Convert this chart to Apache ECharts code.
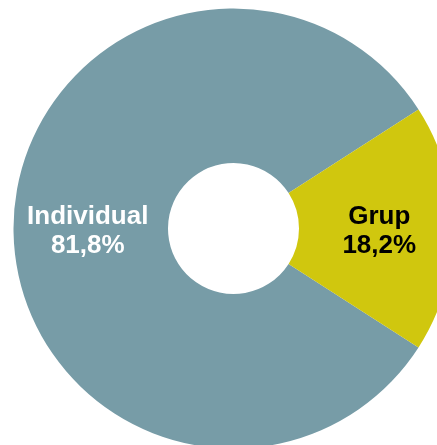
<!DOCTYPE html>
<html>
<head>
<meta charset="utf-8">
<script src="https://cdn.jsdelivr.net/npm/echarts@6/dist/echarts.min.js"></script>
<style>
  html, body { margin: 0; padding: 0; background: #fff; }
  #chart { width: 437px; height: 445px; }
</style>
</head>
<body>
<div id="chart"></div>
<script>
// data
const categories = ['Individual', 'Grup']
const shares = [81.8, 18.2]
const sliceColors = ['#779CA7', '#D0C70E']
const labelColors = ['#ffffff', '#000000']

const chart = echarts.init(document.getElementById('chart'))

const seriesData = categories.map((name, i) => ({
  name,
  value: shares[i],
  itemStyle: { color: sliceColors[i] },
  label: { color: labelColors[i] }
}))

// Grup centered on the right side
const startAngle = -(shares[1] / 100 * 360) / 2

chart.setOption({
  animation: false,
  series: [{
    type: 'pie',
    center: [233.5, 228.5],
    radius: [65.5, 220],
    startAngle,
    clockwise: true,
    silent: true,
    data: seriesData,
    label: {
      show: true,
      position: 'inside',
      offset: [0, 3],
      fontFamily: 'Liberation Sans, Arial, sans-serif',
      fontWeight: 'bold',
      fontSize: 26,
      lineHeight: 29,
      formatter: p => p.name + '\n' + p.value.toFixed(1).replace('.', ',') + '%'
    },
    labelLine: { show: false },
    itemStyle: { borderWidth: 0 }
  }]
})
</script>
</body>
</html>
